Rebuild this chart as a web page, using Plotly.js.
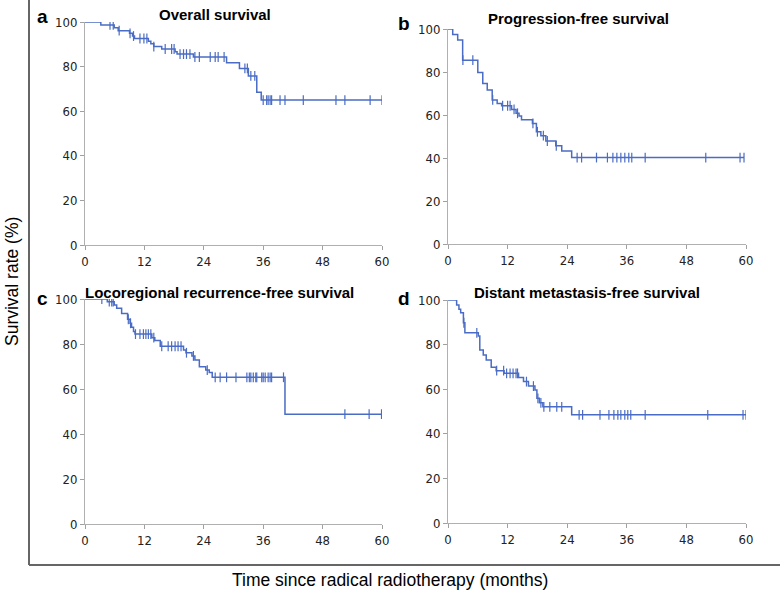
<!DOCTYPE html>
<html>
<head>
<meta charset="utf-8">
<script src="https://cdn.plot.ly/plotly-3.0.1.min.js"></script>
<style>html,body{margin:0;padding:0;background:#fff;}#chart{width:784px;height:596px;}</style>
</head>
<body>
<div id="chart"></div>
<script>
// ---- data (months, survival %) ----
const panelLetters = ["a", "b", "c", "d"];
const panelTitles = ["Overall survival", "Progression-free survival",
  "Locoregional recurrence-free survival", "Distant metastasis-free survival"];
const xTicks = [0, 12, 24, 36, 48, 60];
const yTicks = [0, 20, 40, 60, 80, 100];
const xAxisTitle = "Time since radical radiotherapy (months)";
const yAxisTitle = "Survival rate (%)";

// a: Overall survival
const osEventTimes = [3.2, 5.9, 6.7, 9.0, 9.6, 10.0, 12.8, 13.3, 13.9, 15.5, 18.2, 18.6, 21.9, 28.6, 31.2, 33.0, 34.7, 35.6];
const osSurv = [98.7, 97.4, 96.1, 94.9, 93.7, 92.6, 91.4, 90.2, 89.0, 87.9, 86.7, 85.6, 84.3, 81.7, 79.2, 75.8, 68.5, 65.0];
const osCensor = [5.05, 5.7, 6.9, 9.1, 9.8, 11.1, 11.9, 12.5, 13.9, 16.2, 17.5, 18.0, 19.2, 19.9, 20.5, 21.2, 22.2, 23.1, 25.3, 26.3, 26.9, 28.1, 32.3, 32.8, 33.5, 34.3, 36.0, 36.7, 37.0, 37.4, 37.7, 39.4, 40.4, 44.1, 50.7, 52.5, 57.6, 60.0];

// b: Progression-free survival
const pfsEventTimes = [0.95, 1.95, 2.95, 6.0, 7.0, 7.9, 8.9, 9.9, 10.8, 12.8, 13.7, 14.3, 14.8, 17.0, 17.8, 18.7, 19.7, 21.7, 22.9, 24.9];
const pfsSurv = [97.5, 94.9, 85.5, 79.8, 74.7, 71.6, 67.0, 65.4, 64.3, 62.6, 60.8, 59.5, 57.8, 56.1, 52.2, 50.4, 47.9, 45.7, 43.3, 40.2];
const pfsCensor = [3.0, 5.0, 9.0, 11.0, 12.0, 12.5, 13.3, 14.0, 17.1, 18.0, 19.2, 20.0, 21.8, 26.0, 26.9, 29.9, 32.1, 33.2, 34.0, 34.8, 35.6, 36.4, 37.0, 39.7, 51.9, 58.8, 59.6];

// c: Locoregional recurrence-free survival
const lrfsEventTimes = [4.5, 5.9, 6.4, 7.4, 8.6, 9.1, 9.4, 9.8, 10.1, 13.5, 14.1, 15.2, 19.9, 20.4, 21.6, 22.2, 23.1, 24.4, 25.1, 25.7, 40.4];
const lrfsSurv = [98.8, 97.3, 95.9, 93.6, 91.0, 89.2, 87.4, 85.5, 84.4, 82.8, 81.5, 79.0, 77.3, 76.1, 74.7, 72.9, 69.9, 68.4, 67.3, 65.2, 48.8];
const lrfsCensor = [3.4, 4.9, 5.4, 5.7, 8.75, 9.2, 10.2, 11.1, 11.8, 12.3, 12.8, 13.3, 13.9, 15.5, 16.8, 17.5, 18.2, 18.8, 19.4, 20.5, 21.9, 24.7, 26.3, 27.3, 28.6, 30.5, 32.7, 33.2, 33.5, 34.0, 34.5, 34.7, 35.7, 36.0, 36.4, 37.0, 37.4, 37.7, 40.1, 52.5, 57.4, 59.9];

// d: Distant metastasis-free survival
const dmfsEventTimes = [1.74, 2.2, 2.55, 3.1, 3.4, 6.1, 6.4, 7.1, 7.7, 8.7, 9.7, 11.3, 14.2, 15.2, 16.2, 17.5, 17.9, 18.4, 19.1, 24.9];
const dmfsSurv = [97.8, 95.8, 94.3, 89.8, 85.3, 83.9, 77.6, 75.3, 73.1, 69.8, 68.3, 67.1, 65.3, 63.4, 61.4, 59.6, 55.9, 53.9, 52.1, 48.5];
const dmfsCensor = [3.2, 5.8, 9.8, 11.2, 11.8, 12.5, 13.1, 13.7, 14.0, 15.8, 17.2, 18.1, 18.7, 19.3, 20.5, 21.9, 22.9, 26.4, 27.1, 30.6, 32.4, 33.4, 34.2, 34.8, 35.6, 36.2, 36.8, 39.7, 52.3, 59.4, 60.0];

// ---- helpers ----
const W = 784, H = 596;
const px = x => x / W;
const py = y => 1 - y / H;
const blue = "#4a6cc4";

function level(times, surv, t) {
  let v = 100;
  for (let i = 0; i < times.length; i++) { if (times[i] <= t) v = surv[i]; }
  return v;
}

const panels = [
  {ev: osEventTimes, sv: osSurv, cz: osCensor, box: [85, 382, 22, 245], letter: [42, 17], title: [215, 14]},
  {ev: pfsEventTimes, sv: pfsSurv, cz: pfsCensor, box: [448, 746, 29, 244], letter: [404, 23], title: [578, 18]},
  {ev: lrfsEventTimes, sv: lrfsSurv, cz: lrfsCensor, box: [85, 382, 299, 524], letter: [42, 298], title: [219, 292]},
  {ev: dmfsEventTimes, sv: dmfsSurv, cz: dmfsCensor, box: [448, 746, 300, 523], letter: [404, 298], title: [587, 292]}
];

const traces = [];
const layout = {
  width: W, height: H,
  margin: {l: 0, r: 0, t: 0, b: 0},
  paper_bgcolor: "#fff", plot_bgcolor: "#fff",
  showlegend: false,
  annotations: [], shapes: []
};
const tickFont = {family: "DejaVu Sans Condensed, DejaVu Sans, sans-serif", size: 13, color: "#222"};

panels.forEach((p, i) => {
  const n = i + 1;
  const xa = n === 1 ? "x" : "x" + n;
  const ya = n === 1 ? "y" : "y" + n;
  const lastT = Math.max(...p.cz);
  const lineX = [0].concat(p.ev, [lastT]);
  const lineY = [100].concat(p.sv, [p.sv[p.sv.length - 1]]);
  traces.push({x: lineX, y: lineY, xaxis: xa, yaxis: ya, type: "scatter", mode: "lines",
    line: {shape: "hv", color: blue, width: 1.5}, hoverinfo: "skip"});
  traces.push({x: p.cz, y: p.cz.map(t => level(p.ev, p.sv, t)), xaxis: xa, yaxis: ya,
    type: "scatter", mode: "markers",
    marker: {symbol: "line-ns-open", size: 7, color: blue, line: {color: blue, width: 1.2}}, hoverinfo: "skip"});
  const axCommon = {showgrid: false, zeroline: false, showline: true, linecolor: "#b0b0b0", linewidth: 1,
    ticks: "outside", ticklen: 4, tickcolor: "#a0a0a0", tickfont: tickFont, fixedrange: true};
  layout[n === 1 ? "xaxis" : "xaxis" + n] = Object.assign({}, axCommon, {
    domain: [px(p.box[0]), px(p.box[1])], range: [0, 60], tickvals: xTicks, ticktext: xTicks.map(String),
    anchor: ya});
  layout[n === 1 ? "yaxis" : "yaxis" + n] = Object.assign({}, axCommon, {
    domain: [py(p.box[3]), py(p.box[2])], range: [0, 100], tickvals: yTicks, ticktext: yTicks.map(String),
    anchor: xa});
  layout.annotations.push({xref: "paper", yref: "paper", x: px(p.letter[0]), y: py(p.letter[1]),
    text: "<b>" + panelLetters[i] + "</b>", showarrow: false, xanchor: "center", yanchor: "middle",
    font: {family: "Liberation Sans, Arial, sans-serif", size: 19, color: "#000"}});
  layout.annotations.push({xref: "paper", yref: "paper", x: px(p.title[0]), y: py(p.title[1]),
    text: "<b>" + panelTitles[i] + "</b>", showarrow: false, xanchor: "center", yanchor: "middle",
    font: {family: "Liberation Sans, Arial, sans-serif", size: 15, color: "#000"}});
});

// axis titles
layout.annotations.push({xref: "paper", yref: "paper", x: px(390), y: py(580), text: xAxisTitle,
  showarrow: false, xanchor: "center", yanchor: "middle",
  font: {family: "Liberation Sans, Arial, sans-serif", size: 17.5, color: "#000"}});
layout.annotations.push({xref: "paper", yref: "paper", x: px(12), y: py(282), text: yAxisTitle,
  showarrow: false, xanchor: "center", yanchor: "middle", textangle: -90,
  font: {family: "Liberation Sans, Arial, sans-serif", size: 17.5, color: "#000"}});

// frame
layout.shapes.push({type: "line", xref: "paper", yref: "paper", x0: px(29), x1: px(29), y0: py(0), y1: py(565),
  line: {color: "#666", width: 2}});
layout.shapes.push({type: "line", xref: "paper", yref: "paper", x0: px(29), x1: px(780), y0: py(565), y1: py(565),
  line: {color: "#666", width: 2}});

Plotly.newPlot("chart", traces, layout, {staticPlot: true});
</script>
</body>
</html>
